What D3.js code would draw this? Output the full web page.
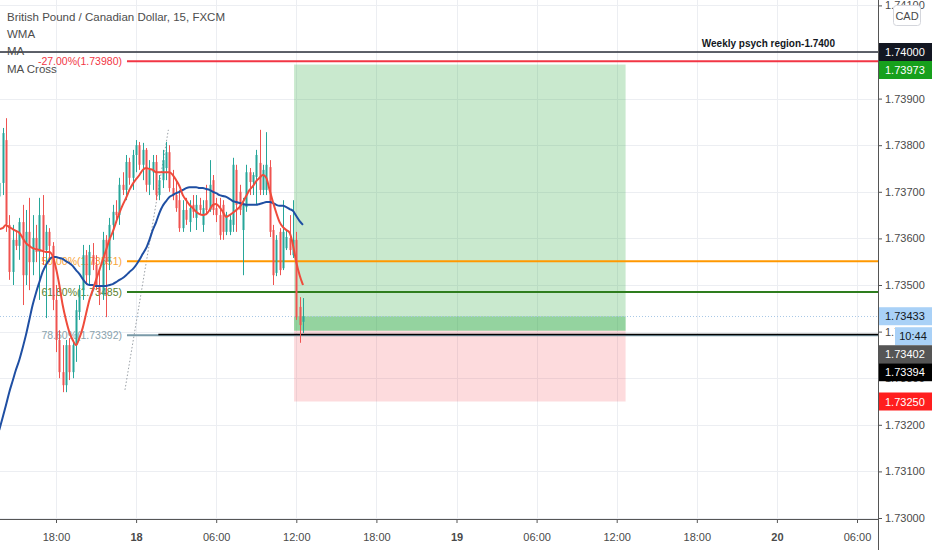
<!DOCTYPE html>
<html>
<head>
<meta charset="utf-8">
<script src="https://cdn.jsdelivr.net/npm/d3@7"></script>
<style>
html, body { margin: 0; padding: 0; background: #fff; }
svg { display: block; font-family: "Liberation Sans", Arial, sans-serif; }
</style>
</head>
<body>
<svg id="chart" width="932" height="550"></svg>
<script>
// 15 minute bars, GBPCAD, from 17th 13:45
var barStart = new Date(2018, 6, 17, 13, 45);

var opens = [1.73690,
    1.73719, 1.73811, 1.73629, 1.73528, 1.73597, 1.73584, 1.73635, 1.73521, 1.73614, 1.73549,
    1.73601, 1.73571, 1.73650, 1.73575, 1.73614, 1.73584, 1.73468, 1.73382, 1.73313, 1.73285,
    1.73371, 1.73313, 1.73371, 1.73442, 1.73489, 1.73564, 1.73521, 1.73564, 1.73543, 1.73500,
    1.73479, 1.73597, 1.73549, 1.73629, 1.73657, 1.73650, 1.73715, 1.73704, 1.73764, 1.73730,
    1.73779, 1.73800, 1.73758, 1.73790, 1.73715, 1.73742, 1.73764, 1.73693, 1.73725, 1.73751,
    1.73785, 1.73708, 1.73693, 1.73682, 1.73622, 1.73661, 1.73635, 1.73672, 1.73644, 1.73672,
    1.73629, 1.73682, 1.73661, 1.73725, 1.73665, 1.73650, 1.73672, 1.73614, 1.73614, 1.73629,
    1.73747, 1.73700, 1.73618, 1.73667, 1.73742, 1.73721, 1.73732, 1.73762, 1.73704, 1.73704,
    1.73753, 1.73618, 1.73526, 1.73614, 1.73536, 1.73579, 1.73601, 1.73564, 1.73597, 1.73453,
    1.73421];
var highs = [1.73745,
    1.73837, 1.73858, 1.73650, 1.73629, 1.73618, 1.73644, 1.73672, 1.73661, 1.73687, 1.73650,
    1.73629, 1.73687, 1.73693, 1.73629, 1.73622, 1.73592, 1.73500, 1.73403, 1.73371, 1.73382,
    1.73386, 1.73382, 1.73468, 1.73500, 1.73586, 1.73575, 1.73586, 1.73590, 1.73564, 1.73532,
    1.73614, 1.73607, 1.73644, 1.73672, 1.73682, 1.73730, 1.73742, 1.73779, 1.73773, 1.73790,
    1.73811, 1.73807, 1.73805, 1.73794, 1.73768, 1.73779, 1.73779, 1.73736, 1.73790, 1.73807,
    1.73800, 1.73747, 1.73721, 1.73704, 1.73682, 1.73687, 1.73682, 1.73693, 1.73693, 1.73687,
    1.73682, 1.73715, 1.73768, 1.73736, 1.73687, 1.73687, 1.73682, 1.73657, 1.73650, 1.73773,
    1.73758, 1.73715, 1.73687, 1.73758, 1.73751, 1.73742, 1.73790, 1.73833, 1.73758, 1.73828,
    1.73768, 1.73629, 1.73607, 1.73622, 1.73682, 1.73618, 1.73650, 1.73682, 1.73614, 1.73474,
    1.73472];
var lows = [1.73660,
    1.73693, 1.73614, 1.73511, 1.73500, 1.73575, 1.73554, 1.73457, 1.73500, 1.73489, 1.73521,
    1.73549, 1.73468, 1.73543, 1.73429, 1.73549, 1.73446, 1.73356, 1.73300, 1.73270, 1.73270,
    1.73296, 1.73300, 1.73335, 1.73425, 1.73468, 1.73500, 1.73500, 1.73532, 1.73489, 1.73457,
    1.73468, 1.73431, 1.73532, 1.73597, 1.73635, 1.73629, 1.73693, 1.73682, 1.73715, 1.73704,
    1.73742, 1.73747, 1.73725, 1.73700, 1.73693, 1.73704, 1.73682, 1.73682, 1.73708, 1.73725,
    1.73700, 1.73682, 1.73657, 1.73614, 1.73614, 1.73629, 1.73614, 1.73644, 1.73618, 1.73650,
    1.73614, 1.73650, 1.73657, 1.73650, 1.73635, 1.73597, 1.73597, 1.73607, 1.73607, 1.73614,
    1.73614, 1.73650, 1.73521, 1.73657, 1.73693, 1.73693, 1.73672, 1.73693, 1.73693, 1.73693,
    1.73603, 1.73500, 1.73519, 1.73521, 1.73532, 1.73575, 1.73564, 1.73558, 1.73425, 1.73376,
    1.73397];
var closes = [1.73719,
    1.73826, 1.73631, 1.73528, 1.73597, 1.73584, 1.73635, 1.73521, 1.73614, 1.73549, 1.73601,
    1.73571, 1.73650, 1.73575, 1.73614, 1.73584, 1.73468, 1.73382, 1.73313, 1.73285, 1.73371,
    1.73313, 1.73371, 1.73446, 1.73489, 1.73564, 1.73521, 1.73571, 1.73543, 1.73500, 1.73479,
    1.73597, 1.73549, 1.73629, 1.73657, 1.73650, 1.73715, 1.73704, 1.73764, 1.73730, 1.73779,
    1.73800, 1.73758, 1.73790, 1.73715, 1.73747, 1.73764, 1.73693, 1.73725, 1.73768, 1.73785,
    1.73708, 1.73693, 1.73665, 1.73622, 1.73661, 1.73640, 1.73665, 1.73657, 1.73672, 1.73661,
    1.73665, 1.73661, 1.73715, 1.73661, 1.73650, 1.73607, 1.73614, 1.73650, 1.73640, 1.73758,
    1.73672, 1.73661, 1.73672, 1.73742, 1.73721, 1.73736, 1.73779, 1.73704, 1.73747, 1.73758,
    1.73614, 1.73521, 1.73597, 1.73532, 1.73614, 1.73603, 1.73575, 1.73597, 1.73431, 1.73414,
    1.73433];

// moving averages, one value per bar
var slowMA = [1.73189,
    1.73215, 1.73242, 1.73270, 1.73294, 1.73318, 1.73339, 1.73365, 1.73393, 1.73425, 1.73457,
    1.73483, 1.73506, 1.73528, 1.73543, 1.73554, 1.73560, 1.73560, 1.73558, 1.73556, 1.73551,
    1.73547, 1.73541, 1.73532, 1.73524, 1.73513, 1.73504, 1.73500, 1.73500, 1.73498, 1.73498,
    1.73498, 1.73498, 1.73500, 1.73502, 1.73506, 1.73511, 1.73515, 1.73521, 1.73528, 1.73534,
    1.73543, 1.73554, 1.73567, 1.73579, 1.73597, 1.73618, 1.73635, 1.73655, 1.73670, 1.73680,
    1.73689, 1.73693, 1.73697, 1.73700, 1.73704, 1.73708, 1.73710, 1.73710, 1.73710, 1.73708,
    1.73708, 1.73706, 1.73704, 1.73700, 1.73697, 1.73693, 1.73691, 1.73689, 1.73685, 1.73680,
    1.73678, 1.73676, 1.73674, 1.73672, 1.73672, 1.73672, 1.73672, 1.73674, 1.73676, 1.73678,
    1.73678, 1.73676, 1.73672, 1.73670, 1.73670, 1.73667, 1.73663, 1.73659, 1.73648, 1.73637,
    1.73629];
var fastMA = [1.73620,
    1.73622, 1.73629, 1.73624, 1.73620, 1.73616, 1.73612, 1.73601, 1.73590, 1.73584, 1.73579,
    1.73577, 1.73575, 1.73573, 1.73571, 1.73571, 1.73562, 1.73536, 1.73500, 1.73457, 1.73425,
    1.73399, 1.73382, 1.73371, 1.73386, 1.73408, 1.73438, 1.73468, 1.73489, 1.73511, 1.73532,
    1.73554, 1.73575, 1.73597, 1.73614, 1.73635, 1.73655, 1.73672, 1.73687, 1.73704, 1.73717,
    1.73727, 1.73736, 1.73747, 1.73751, 1.73749, 1.73747, 1.73742, 1.73742, 1.73742, 1.73742,
    1.73742, 1.73736, 1.73725, 1.73712, 1.73693, 1.73682, 1.73672, 1.73665, 1.73657, 1.73652,
    1.73650, 1.73652, 1.73661, 1.73672, 1.73674, 1.73667, 1.73657, 1.73646, 1.73650, 1.73655,
    1.73661, 1.73667, 1.73678, 1.73691, 1.73704, 1.73712, 1.73723, 1.73730, 1.73736, 1.73730,
    1.73704, 1.73678, 1.73655, 1.73635, 1.73624, 1.73618, 1.73612, 1.73586, 1.73549, 1.73521,
    1.73500];

// price and time ticks
var priceTicks = [1.73000, 1.73100, 1.73200, 1.73300, 1.73400, 1.73500, 1.73600, 1.73700, 1.73800, 1.73900, 1.74000, 1.74100];
var timeTicks = d3.timeHour.every(6).range(new Date(2018, 6, 17, 18), new Date(2018, 6, 20, 7));

// fibonacci retracement
var fibAnchorTimes = [new Date(2018, 6, 17, 23, 10), new Date(2018, 6, 18, 2, 25)];
var fibAnchorPrices = [1.73275, 1.73833];
var fibLabels = ['-27.00%(1.73980)', '50.00%(1.73551)', '61.80%(1.73485)', '78.60%(1.73392)'];
var fibPrices = [1.73980, 1.73551, 1.73485, 1.73392];
var fibColors = ['#f23645', '#ff9800', '#2e7d1e', '#7a9aa8'];
var fibTextColors = ['#f23645', '#f7a43a', '#5b7f2c', '#8aa3ad'];

// horizontal lines
var levelPrices = [1.74000, 1.73394];
var levelStarts = [new Date(2018, 6, 17, 13, 0), new Date(2018, 6, 18, 1, 40)];
var levelNote = 'Weekly psych region-1.7400';

// long position tool
var posStart = new Date(2018, 6, 18, 11, 50);
var posEnd = new Date(2018, 6, 19, 12, 40);
var posEntry = 1.73402;
var posTarget = 1.73973;
var posStop = 1.73250;

// price scale tags
var tagValues = [1.74000, 1.73973, 1.73433, 1.73402, 1.73394, 1.73250];
var tagFills = ['#131722', '#17a01c', '#a9d1f7', '#555555', '#000000', '#ff1e1e'];
var tagInk = ['#ffffff', '#ffffff', '#131722', '#ffffff', '#ffffff', '#ffffff'];
var countdown = '10:44';

var legend = ['British Pound / Canadian Dollar, 15, FXCM', 'WMA', 'MA', 'MA Cross'];

var upColor = '#26a69a', downColor = '#ef5350';
var plotW = 878, plotH = 519;

var svg = d3.select('#chart');

var x = d3.scaleTime()
    .domain([new Date(2018, 6, 17, 18), new Date(2018, 6, 20, 6)])
    .range([56, 857]);
var y = d3.scaleLinear().domain([1.73, 1.74]).range([518, 52]);

var bars = opens.map(function(o, i) {
    return {t: new Date(+barStart + i * 15 * 60000), o: o, h: highs[i], l: lows[i], c: closes[i],
        slow: slowMA[i], fast: fastMA[i]};
});
var lastClose = closes[closes.length - 1];

svg.append('defs').append('clipPath').attr('id', 'plotClip')
    .append('rect').attr('width', plotW).attr('height', plotH);

var plot = svg.append('g').attr('clip-path', 'url(#plotClip)');

// grid
plot.append('g').selectAll('line').data(priceTicks).join('line')
    .attr('x1', 0).attr('x2', plotW)
    .attr('y1', function(d) { return Math.round(y(d)) + 0.5; })
    .attr('y2', function(d) { return Math.round(y(d)) + 0.5; })
    .attr('stroke', '#eceef2');
plot.append('g').selectAll('line').data(timeTicks).join('line')
    .attr('x1', function(d) { return Math.round(x(d)) + 0.5; })
    .attr('x2', function(d) { return Math.round(x(d)) + 0.5; })
    .attr('y1', 0).attr('y2', plotH)
    .attr('stroke', '#eceef2');

// position tool
plot.append('rect')
    .attr('x', x(posStart)).attr('width', x(posEnd) - x(posStart))
    .attr('y', y(posTarget)).attr('height', y(posEntry) - y(posTarget))
    .attr('fill', 'rgba(38,166,60,0.25)');
plot.append('rect')
    .attr('x', x(posStart)).attr('width', x(posEnd) - x(posStart))
    .attr('y', y(posEntry)).attr('height', y(posStop) - y(posEntry))
    .attr('fill', 'rgba(242,54,69,0.18)');
plot.append('rect')
    .attr('x', x(posStart)).attr('width', x(posEnd) - x(posStart))
    .attr('y', y(lastClose)).attr('height', y(posEntry) - y(lastClose))
    .attr('fill', 'rgba(38,166,60,0.32)');

// current price dotted line
plot.append('line')
    .attr('x1', 0).attr('x2', plotW)
    .attr('y1', Math.round(y(lastClose)) + 0.5).attr('y2', Math.round(y(lastClose)) + 0.5)
    .attr('stroke', '#a9c8e6').attr('stroke-dasharray', '1,2');

// fib trend line
plot.append('line')
    .attr('x1', x(fibAnchorTimes[0])).attr('y1', y(fibAnchorPrices[0]))
    .attr('x2', x(fibAnchorTimes[1])).attr('y2', y(fibAnchorPrices[1]))
    .attr('stroke', '#9aa0a6').attr('stroke-dasharray', '1.5,2');

// fib levels
var fib = plot.append('g');
fib.selectAll('line').data(fibPrices).join('line')
    .attr('x1', x(fibAnchorTimes[0]) + 2).attr('x2', plotW)
    .attr('y1', function(d) { return y(d); }).attr('y2', function(d) { return y(d); })
    .attr('stroke', function(d, i) { return fibColors[i]; })
    .attr('stroke-width', 2);
fib.selectAll('text').data(fibPrices).join('text')
    .attr('x', x(fibAnchorTimes[0]) - 3)
    .attr('y', function(d) { return y(d) + 4; })
    .attr('text-anchor', 'end')
    .attr('font-size', '10.5px')
    .attr('fill', function(d, i) { return fibTextColors[i]; })
    .text(function(d, i) { return fibLabels[i]; });

// horizontal lines
plot.append('g').selectAll('line').data(levelPrices).join('line')
    .attr('x1', function(d, i) { return x(levelStarts[i]); }).attr('x2', plotW)
    .attr('y1', function(d) { return y(d); }).attr('y2', function(d) { return y(d); })
    .attr('stroke', function(d, i) { return i === 0 ? '#2a2e39' : '#000'; })
    .attr('stroke-width', 1.5);
plot.append('text')
    .attr('x', 835).attr('y', y(levelPrices[0]) - 5)
    .attr('text-anchor', 'end')
    .attr('font-size', '10px').attr('font-weight', 'bold')
    .attr('fill', '#131722')
    .text(levelNote);

// candles
var candles = plot.append('g');
candles.selectAll('line').data(bars).join('line')
    .attr('x1', function(d) { return Math.round(x(d.t)) + 0.5; })
    .attr('x2', function(d) { return Math.round(x(d.t)) + 0.5; })
    .attr('y1', function(d) { return y(d.h); })
    .attr('y2', function(d) { return y(d.l); })
    .attr('stroke', function(d) { return d.c >= d.o ? upColor : downColor; });
candles.selectAll('rect').data(bars).join('rect')
    .attr('x', function(d) { return Math.round(x(d.t)) - 0.5; })
    .attr('width', 2)
    .attr('y', function(d) { return y(Math.max(d.o, d.c)); })
    .attr('height', function(d) { return Math.max(1, Math.abs(y(d.o) - y(d.c))); })
    .attr('fill', function(d) { return d.c >= d.o ? upColor : downColor; });

// moving averages
var slowLine = d3.line().x(function(d) { return x(d.t); }).y(function(d) { return y(d.slow); }).curve(d3.curveMonotoneX);
var fastLine = d3.line().x(function(d) { return x(d.t); }).y(function(d) { return y(d.fast); }).curve(d3.curveMonotoneX);
plot.append('path').datum(bars).attr('d', slowLine)
    .attr('fill', 'none').attr('stroke', '#1f4fa3').attr('stroke-width', 2);
plot.append('path').datum(bars).attr('d', fastLine)
    .attr('fill', 'none').attr('stroke', '#ef4b3b').attr('stroke-width', 2);

// legend
svg.append('g').selectAll('text').data(legend).join('text')
    .attr('x', 7)
    .attr('y', function(d, i) { return [20.5, 38, 55, 73][i]; })
    .attr('font-size', '11.5px')
    .attr('fill', '#4d4d4d')
    .text(function(d) { return d; });

// axes
var yAxis = d3.axisRight(y).tickValues(priceTicks).tickFormat(d3.format('.5f')).tickSize(4).tickPadding(3);
var yg = svg.append('g').attr('transform', 'translate(' + plotW + ',0)').call(yAxis);
yg.select('.domain').remove();
yg.selectAll('.tick line').attr('stroke', '#555');
yg.selectAll('.tick text').attr('font-size', '11px').attr('fill', '#4a4a4a')
    .attr('font-family', '"Liberation Sans", Arial, sans-serif');

var timeFmt = function(d) { return d.getHours() === 0 ? d3.timeFormat('%-d')(d) : d3.timeFormat('%H:%M')(d); };
var xAxis = d3.axisBottom(x).tickValues(timeTicks).tickFormat(timeFmt).tickSize(4).tickPadding(10);
var xg = svg.append('g').attr('transform', 'translate(0,' + plotH + ')').call(xAxis);
xg.select('.domain').remove();
xg.selectAll('.tick line').attr('stroke', '#555');
xg.selectAll('.tick text').attr('font-size', '11px').attr('fill', '#4a4a4a')
    .attr('font-family', '"Liberation Sans", Arial, sans-serif')
    .attr('font-weight', function(d) { return d.getHours() === 0 ? 'bold' : 'normal'; });

svg.append('line').attr('x1', plotW + 0.5).attr('x2', plotW + 0.5).attr('y1', 0).attr('y2', 550)
    .attr('stroke', '#555');
svg.append('line').attr('x1', 0).attr('x2', plotW).attr('y1', plotH + 0.5).attr('y2', plotH + 0.5)
    .attr('stroke', '#555');

// price tags, stacked so they do not overlap
var tags = tagValues.map(function(v, i) { return {v: v, fill: tagFills[i], ink: tagInk[i]}; })
    .sort(function(a, b) { return b.v - a.v; });
var prevBottom = -Infinity;
tags.forEach(function(t) {
    t.top = Math.max(y(t.v) - 9, prevBottom);
    prevBottom = t.top + 18;
    if (t.v === lastClose) {
        t.clock = prevBottom + 2;
        prevBottom = t.clock + 18;
    }
});
var tg = svg.append('g');
tags.forEach(function(t) {
    tg.append('rect').attr('x', plotW + 1).attr('y', t.top).attr('width', 932 - plotW).attr('height', 18)
        .attr('fill', t.fill);
    tg.append('text').attr('x', plotW + 7).attr('y', t.top + 13)
        .attr('font-size', '11px').attr('fill', t.ink)
        .text(d3.format('.5f')(t.v));
    if (t.clock !== undefined) {
        tg.append('rect').attr('x', 895).attr('y', t.clock).attr('width', 37).attr('height', 18)
            .attr('fill', t.fill);
        tg.append('text').attr('x', 913).attr('y', t.clock + 13).attr('text-anchor', 'middle')
            .attr('font-size', '11px').attr('fill', t.ink)
            .text(countdown);
    }
});

// currency button
svg.append('rect').attr('x', 893.5).attr('y', 5.5).attr('width', 27).attr('height', 20).attr('rx', 3)
    .attr('fill', '#fff').attr('stroke', '#d4d6dc');
svg.append('text').attr('x', 907).attr('y', 19.5).attr('text-anchor', 'middle')
    .attr('font-size', '11px').attr('fill', '#4a4a4a').text('CAD');
</script>
</body>
</html>
